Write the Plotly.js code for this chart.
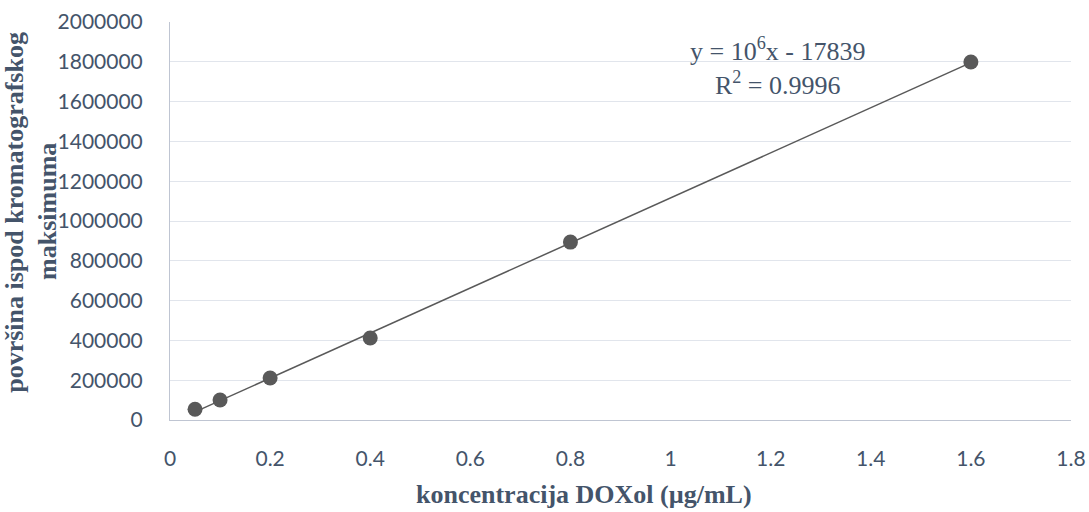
<!DOCTYPE html>
<html><head><meta charset="utf-8">
<script src="https://cdn.plot.ly/plotly-3.0.1.min.js"></script>
<style>html,body{margin:0;padding:0;background:#fff}#chart{width:1089px;height:512px}</style>
</head><body><div id="chart"></div>
<script>
const concentration = [0.05, 0.1, 0.2, 0.4, 0.8, 1.6];
const peakArea = [54000, 100500, 211000, 412000, 894000, 1799000];
const equationText = "y = 10<sup>6</sup>x - 17839";
const r2Text = "R<sup>2</sup> = 0.9996";
const xTitle = "koncentracija DOXol (µg/mL)";
const yTitleLines = ["površina ispod kromatografskog", "maksimuma"];

// least-squares trendline from the data
const n = concentration.length;
const mx = concentration.reduce((a,b)=>a+b,0)/n;
const my = peakArea.reduce((a,b)=>a+b,0)/n;
let sxy=0,sxx=0;
for(let i=0;i<n;i++){sxy+=(concentration[i]-mx)*(peakArea[i]-my);sxx+=(concentration[i]-mx)**2;}
const slope=sxy/sxx, intercept=my-slope*mx;
const tx=[Math.min(...concentration),Math.max(...concentration)];
const ty=tx.map(x=>slope*x+intercept);

const textColor="#44546A";
const serif="Liberation Serif, Times New Roman, serif";
const data=[
 {x:tx,y:ty,mode:"lines",line:{color:"#595959",width:1.5},hoverinfo:"skip",showlegend:false},
 {x:concentration,y:peakArea,mode:"markers",marker:{color:"#595959",size:15},showlegend:false}
];
const layout={
 width:1089,height:512,
 margin:{l:170,r:18,t:22,b:92},
 paper_bgcolor:"#fff",plot_bgcolor:"#fff",
 font:{family:"Lato, Carlito, sans-serif",color:textColor,size:21},
 xaxis:{range:[0,1.8],dtick:0.2,tick0:0,showgrid:false,zeroline:false,
   showline:true,linecolor:"#BFC5D2",linewidth:1,ticks:"",ticklabelstandoff:20,
   tickfont:{size:21,color:textColor}},
 yaxis:{range:[0,2000000],dtick:200000,showgrid:true,gridcolor:"#E1E5EC",gridwidth:1,zeroline:false,
   showline:true,linecolor:"#BFC5D2",linewidth:1,ticks:"",ticklabelstandoff:22,
   tickformat:"d",tickfont:{size:21,color:textColor}},
 annotations:[
  {xref:"paper",yref:"paper",x:0.674,y:0.887,xanchor:"center",yanchor:"middle",
   text:equationText+"<br>"+r2Text,showarrow:false,
   font:{family:serif,size:26,color:textColor},align:"center"},
  {xref:"paper",yref:"paper",x:0.4595,y:-0.188,xanchor:"center",yanchor:"middle",
   text:"<b>"+xTitle+"</b>",showarrow:false,font:{family:serif,size:26,color:textColor}},
  {xref:"paper",yref:"paper",x:-0.161,y:0.523,xanchor:"center",yanchor:"middle",textangle:-90,xshift:-10,
   text:"<b>"+yTitleLines[0]+"</b>",showarrow:false,font:{family:serif,size:26,color:textColor}},
  {xref:"paper",yref:"paper",x:-0.1287,y:0.523,xanchor:"center",yanchor:"middle",textangle:-90,xshift:-6,
   text:"<b>"+yTitleLines[1]+"</b>",showarrow:false,font:{family:serif,size:26,color:textColor}}
 ]
};
Plotly.newPlot("chart",data,layout,{displayModeBar:false,staticPlot:true});
</script></body></html>
